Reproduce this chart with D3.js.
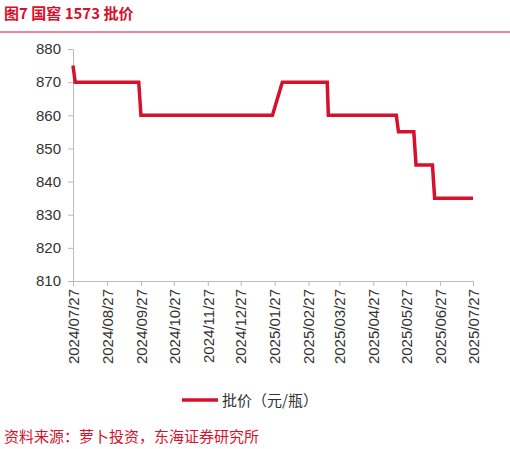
<!DOCTYPE html><html><head><meta charset="utf-8"><script src="https://cdn.jsdelivr.net/npm/d3@7"></script>
<style>body{margin:0;background:#fff;font-family:"Noto Sans CJK SC","Liberation Sans",sans-serif}</style></head><body><svg id="c" width="510" height="449"></svg><script>
const dates=["2024-07-27","2024-07-29","2024-09-25","2024-09-27","2025-01-25","2025-02-03","2025-03-16","2025-03-17","2025-05-18","2025-05-20","2025-06-03","2025-06-05","2025-06-20","2025-06-22","2025-07-27"];
const prices=[875,870,870,860,860,870,870,860,860,855,855,845,845,835,835];
const tickLabels=["2024/07/27","2024/08/27","2024/09/27","2024/10/27","2024/11/27","2024/12/27","2025/01/27","2025/02/27","2025/03/27","2025/04/27","2025/05/27","2025/06/27","2025/07/27"];
const yTicks=[810,820,830,840,850,860,870,880];
const red="#d7102b";
const svg=d3.select("#c");
const p=d3.timeParse("%Y-%m-%d"),pt=d3.timeParse("%Y/%m/%d");
const x=d3.scaleTime().domain([p("2024-07-27"),p("2025-07-27")]).range([73,473]);
const y=d3.scaleLinear().domain([810,880]).range([281,49]);
svg.append("text").attr("x",4).attr("y",19).attr("fill",red).attr("font-weight","bold").attr("font-size",15).text("图7  国窖 1573 批价");
svg.append("line").attr("x1",0).attr("x2",510).attr("y1",32).attr("y2",32).attr("stroke",red).attr("stroke-width",1);
const ya=svg.append("g").attr("transform","translate(73,0)").call(d3.axisLeft(y).tickValues(yTicks).tickSize(5).tickSizeOuter(0));
ya.selectAll("text").attr("font-size",15).attr("fill","#333").attr("font-family","Liberation Sans,Arial").attr("dx",-4);
const xa=svg.append("g").attr("transform","translate(0,281)").call(d3.axisBottom(x).tickValues(tickLabels.map(pt)).tickFormat(d3.timeFormat("%Y/%m/%d")).tickSize(5));
xa.selectAll("text").attr("font-size",15).attr("fill","#333").attr("font-family","Liberation Sans,Arial").attr("transform","rotate(-90)").attr("text-anchor","end").attr("x",-8).attr("y",0).attr("dy","0.35em");
svg.selectAll(".domain,.tick line").attr("stroke","#bbb");
svg.append("path").datum(dates.map((d,i)=>[p(d),prices[i]])).attr("fill","none").attr("stroke",red).attr("stroke-width",3.5)
 .attr("d",d3.line().x(d=>x(d[0])).y(d=>y(d[1])));
svg.append("line").attr("x1",182).attr("x2",218).attr("y1",400).attr("y2",400).attr("stroke",red).attr("stroke-width",3.5);
svg.append("text").attr("x",222).attr("y",406).attr("font-size",15).attr("fill","#333").text("批价（元/瓶）");
svg.append("text").attr("x",4).attr("y",442).attr("font-size",15).attr("fill",red).text("资料来源：萝卜投资，东海证券研究所");
</script></body></html>
